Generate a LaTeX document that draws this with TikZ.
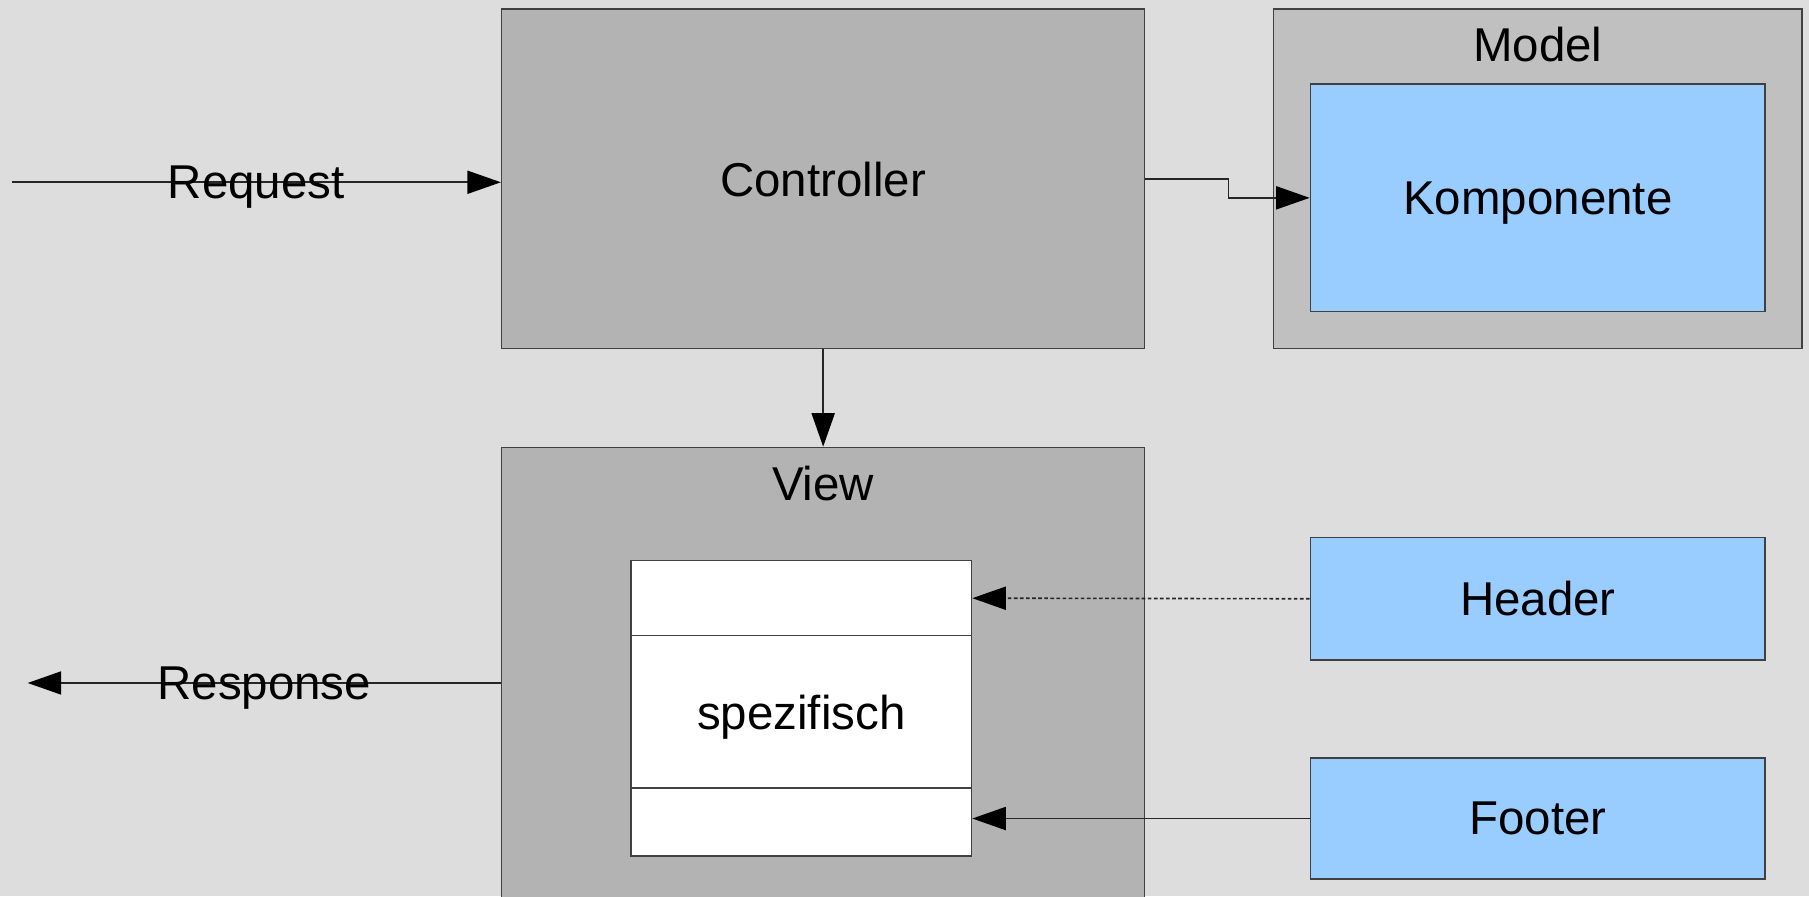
\documentclass[tikz,border=0pt]{standalone}
\usepackage{fontspec}
\setmainfont{Liberation Sans}
\usetikzlibrary{arrows.meta}
\definecolor{bggray}{HTML}{DDDDDD}
\definecolor{boxgray}{HTML}{B3B3B3}
\definecolor{modelgray}{HTML}{C0C0C0}
\definecolor{compblue}{HTML}{99CCFF}
\begin{document}
\begin{tikzpicture}[x=0.01cm,y=-0.01cm,
        font=\fontsize{11.7}{14}\selectfont,
        every node/.style={text depth=0pt},
        block/.style={draw=black!75,line width=0.4pt,inner sep=0pt},
        comp/.style={block,fill=compblue,minimum width=3.94cm},
        flow/.style={line width=0.4pt,draw=black!85,-{Triangle[length=0.29cm,width=0.2cm,fill=black,color=black]}}]
                \fill[bggray] (0,0) rectangle (1568,777);
                \clip (0,0) rectangle (1568,777);
                \node[block,fill=boxgray,minimum width=5.57cm,minimum height=2.94cm] (ctrl) at (713.5,155) {Controller};
                \node[block,fill=modelgray,minimum width=4.58cm,minimum height=2.94cm] (model) at (1333,155) {};
                \node (modeltitle) at (1333,38) {Model};
                \node[comp,minimum height=1.97cm] (komp) at (1333,171.5) {Komponente};
                \node[block,fill=boxgray,minimum width=5.57cm,minimum height=4.2cm] (view) at (713.5,598) {};
                \node (viewtitle) at (713.5,419) {View};
                \node[block,fill=white,minimum width=2.95cm,minimum height=0.65cm] (vtop) at (694.5,518.5) {};
                \node[block,fill=white,minimum width=2.95cm,minimum height=1.32cm] (vmid) at (694.5,617) {spezifisch};
                \node[block,fill=white,minimum width=2.95cm,minimum height=0.59cm] (vbot) at (694.5,712.5) {};
                \node[comp,minimum height=1.06cm] (header) at (1333,519) {Header};
                \node[comp,minimum height=1.05cm] (footer) at (1333,709.5) {Footer};
                \coordinate (reqin) at (10,158);
                \coordinate (respout) at (24,592);
                \draw[flow] (reqin) -- (reqin -| ctrl.west) node[midway] {Request};
                \draw[flow] (view.west |- respout) -- (respout) node[midway] {Response};
                \draw[flow] (ctrl.south) -- (view.north);
                \draw[flow] (ctrl.east) -- ++(72,0) |- (komp.west);
                \draw[flow,dash pattern=on 0.9pt off 0.6pt] (header.west) -- (vtop.east);
                \draw[flow] (footer.west) -- (footer.west -| vbot.east);
            \end{tikzpicture}
\end{document}
